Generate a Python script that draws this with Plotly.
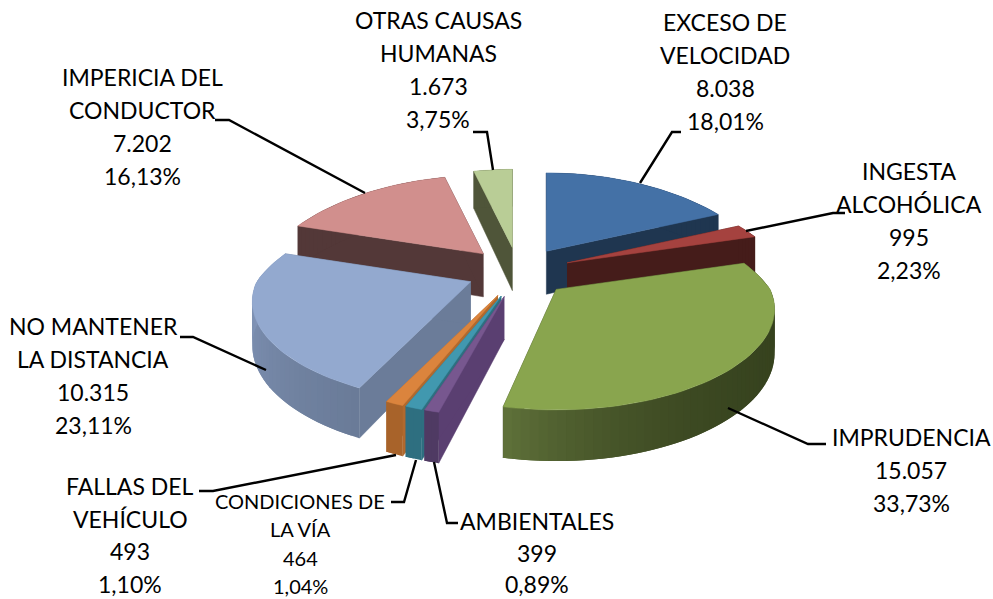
import numpy as np
import plotly.graph_objects as go

categories = ["EXCESO DE|VELOCIDAD", "INGESTA|ALCOHÓLICA", "IMPRUDENCIA", "AMBIENTALES",
              "CONDICIONES DE|LA VÍA", "FALLAS DEL|VEHÍCULO", "NO MANTENER|LA DISTANCIA",
              "IMPERICIA DEL|CONDUCTOR", "OTRAS CAUSAS|HUMANAS"]
values = [8038, 995, 15057, 399, 464, 493, 10315, 7202, 1673]
percents = ["18,01%", "2,23%", "33,73%", "0,89%", "1,04%", "1,10%", "23,11%", "16,13%", "3,75%"]
top_colors = ["#4471A6", "#A5423F", "#89A54E", "#77578F", "#4198AF", "#DB843D", "#93A9CF", "#D18F8D", "#B9CD96"]
side_colors = ["#1F3650", "#451C1A", "#37431F", "#5A3F71", "#2E6F80", "#B0692E", "#6B7C99", "#533838", "#4F5539"]
rim_from = ["#1F3650", "#451C1A", "#36421E", "#4F3A63", "#2E6F80", "#A8632A", "#6A7B98", "#533838", "#4F5539"]
rim_to = ["#1F3650", "#451C1A", "#5E7039", "#4F3A63", "#2E6F80", "#A8632A", "#869ABE", "#533838", "#4F5539"]
rim_curve = [1, 1, 4, 1, 1, 1, 1, 1, 1]
end_trim_deg = [0, 0, 2.8, 0, 0, 0, 0, 0, 0]

# label layout: centre x, y of first line, line gap
label_pos = [(725, 22, 33), (909, 171, 33), (911, 437, 33), (537, 521, 31.5), (300, 501, 28.3),
             (130, 486, 32.7), (93, 326, 33), (142, 77, 33), (438, 20, 33)]
label_size = [23, 23, 23, 23, 20, 23, 23, 23, 23]
leaders = [[(640, 183), (672, 132), (681, 132)], [(746, 231), (833, 213), (845, 213)],
           [(728, 408), (808, 444), (826, 444)], [(434, 462), (447, 523), (458, 523)],
           [(416, 460), (404, 502), (391, 502)], [(396, 455), (213, 491), (199, 491)],
           [(266, 370), (193, 337), (180, 337)], [(365, 193), (229, 120), (215, 120)],
           [(493, 170), (487, 132), (473, 132)]]

# projection of the tilted pie onto the page
CX, CY, EX = 518.5, 271.5, 52
RX, RY, DEPTH = 214, 94, 43
draw_order = [8, 7, 0, 1, 6, 5, 4, 3, 2]


def hex_rgb(c):
    return np.array([int(c[i:i + 2], 16) for i in (1, 3, 5)], float)


def mix(a, b, t):
    r = hex_rgb(a) * (1 - t) + hex_rgb(b) * t
    return "rgb(%d,%d,%d)" % tuple(r.round())


total = sum(values)
fracs = np.array(values) / total
ends = np.cumsum(fracs) * 2 * np.pi
starts = ends - fracs * 2 * np.pi


def rim(theta, ox, oy):
    c, s = np.cos(theta), np.sin(theta)
    kx = 1 + np.where(c > 0, 0.3, 0.2) * c
    ky = 1 + np.where(c > 0, 0.2, 0.22) * c
    return ox + RX * s / kx, oy - RY * c / ky, DEPTH / (1 + 0.16 * c)


def poly(fig, xs, ys, color, width=0.0):
    fig.add_trace(go.Scatter(x=list(xs), y=list(ys), mode="lines", fill="toself", fillcolor=color,
                             line=dict(color=color, width=width), hoverinfo="skip", showlegend=False))


fig = go.Figure()
for i in draw_order:
    mid = (starts[i] + ends[i]) / 2
    c_mid = np.cos(mid)
    ox, oy = CX + EX * np.sin(mid), CY - (24 if c_mid > 0 else 26) * c_mid
    th = np.linspace(starts[i], ends[i] - np.radians(end_trim_deg[i]),
                     max(3, int(np.degrees(ends[i] - starts[i]) / 2) + 2))
    rx, ry, rd = rim(th, ox, oy)
    # radial walls
    for j in (0, -1):
        poly(fig, [ox, rx[j], rx[j], ox], [oy, ry[j], ry[j] + rd[j], oy + DEPTH], side_colors[i], 0.5)
    # outer wall, shaded step by step; each step runs under the next so no seams show
    n = len(th)
    for j in range(n - 1):
        t = (j / max(1, n - 2)) ** rim_curve[i]
        k = min(j + 2, n - 1)
        poly(fig, np.r_[rx[j:k + 1], rx[j:k + 1][::-1]],
             np.r_[ry[j:k + 1], (ry + rd)[j:k + 1][::-1]], mix(rim_from[i], rim_to[i], t))
    # top face
    poly(fig, np.r_[ox, rx, ox], np.r_[oy, ry, oy], top_colors[i], 0.5)

for pts in leaders:
    fig.add_trace(go.Scatter(x=[p[0] for p in pts], y=[p[1] for p in pts], mode="lines",
                             line=dict(color="black", width=2.4), hoverinfo="skip", showlegend=False))

for i, name in enumerate(categories):
    lines = name.split("|") + [f"{values[i]:,}".replace(",", "."), percents[i]]
    x, y, gap = label_pos[i]
    for n, txt in enumerate(lines):
        fig.add_annotation(x=x, y=y + n * gap, text=txt, showarrow=False, xanchor="center", yanchor="middle",
                           font=dict(family="Lato", size=label_size[i], color="black"))

fig.update_layout(width=993, height=599, margin=dict(l=0, r=0, t=0, b=0), paper_bgcolor="white",
                  plot_bgcolor="white", showlegend=False,
                  xaxis=dict(range=[0, 993], visible=False, fixedrange=True),
                  yaxis=dict(range=[599, 0], visible=False, fixedrange=True))
fig.write_html("out.html", config=dict(displayModeBar=False),
               post_script="document.documentElement.style.overflow='hidden';document.body.style.margin='0';")
